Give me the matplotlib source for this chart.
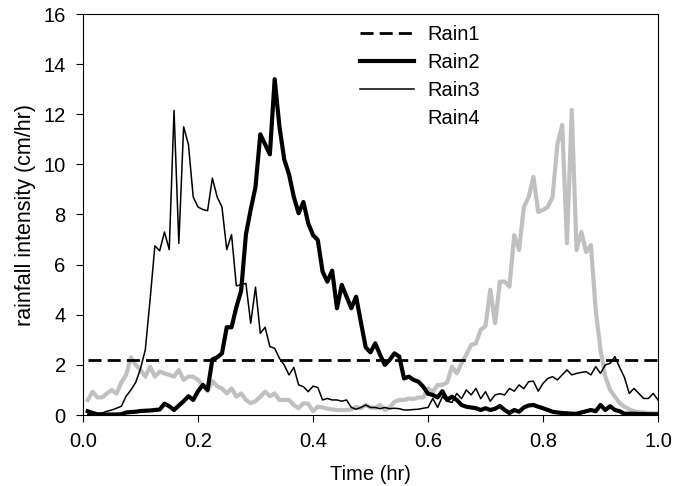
import matplotlib
matplotlib.use("Agg")
import matplotlib.pyplot as plt
import numpy as np
from matplotlib.lines import Line2D

plt.rcParams["font.family"] = ["Liberation Sans", "DejaVu Sans"]

# time axis: 30 s steps over one hour
time_hr = np.arange(1, 121) / 120.0

rain1_t = [time_hr[0], 1.0]
rain1 = [2.2, 2.2]

rain2 = [
    0.15, 0.08, 0.03, 0.02, 0.02, 0.02, 0.02, 0.03, 0.10, 0.12,
    0.13, 0.16, 0.17, 0.18, 0.20, 0.22, 0.45, 0.35, 0.20, 0.38,
    0.55, 0.75, 0.60, 0.95, 1.20, 1.00, 2.22, 2.30, 2.46, 3.50,
    3.50, 4.30, 4.95, 7.20, 8.20, 9.10, 11.20, 10.80, 10.40, 13.40,
    11.50, 10.20, 9.60, 8.70, 8.05, 8.50, 7.65, 7.18, 6.98, 5.72,
    5.32, 5.76, 4.26, 5.19, 4.72, 4.26, 4.72, 3.70, 2.70, 2.50,
    2.86, 2.40, 2.00, 2.20, 2.46, 2.33, 1.46, 1.53, 1.40, 1.33,
    1.13, 0.85, 0.80, 0.70, 0.95, 0.60, 0.73, 0.60, 0.40, 0.33,
    0.30, 0.27, 0.20, 0.27, 0.20, 0.25, 0.36, 0.20, 0.08, 0.20,
    0.13, 0.30, 0.38, 0.40, 0.33, 0.27, 0.20, 0.13, 0.10, 0.08,
    0.07, 0.05, 0.05, 0.10, 0.15, 0.20, 0.15, 0.40, 0.20, 0.35,
    0.20, 0.15, 0.05, 0.05, 0.05, 0.04, 0.04, 0.03, 0.03, 0.03,
]

rain3 = [
    0.03, 0.03, 0.05, 0.08, 0.15, 0.20, 0.27, 0.35, 0.75, 1.00,
    1.30, 1.85, 2.60, 4.60, 6.75, 6.55, 7.30, 6.60, 12.15, 6.85,
    11.50, 10.80, 8.70, 8.30, 8.20, 8.15, 9.45, 8.70, 8.30, 6.60,
    7.20, 5.15, 5.20, 5.25, 3.66, 5.10, 3.26, 3.50, 2.73, 2.66,
    2.26, 1.99, 1.60, 1.90, 1.20, 1.13, 0.93, 1.15, 1.10, 0.60,
    0.66, 0.60, 0.60, 0.55, 0.60, 0.30, 0.23, 0.30, 0.40, 0.30,
    0.30, 0.25, 0.30, 0.25, 0.27, 0.25, 0.20, 0.20, 0.22, 0.23,
    0.27, 0.30, 0.66, 0.30, 0.73, 0.55, 0.50, 0.86, 0.65, 1.00,
    0.80, 1.06, 0.65, 0.93, 0.55, 0.80, 0.85, 0.80, 1.06, 0.95,
    1.20, 1.05, 1.33, 1.35, 0.95, 1.26, 1.46, 1.53, 1.40, 1.60,
    1.80, 1.60, 1.66, 1.70, 1.73, 1.60, 1.93, 1.66, 2.00, 2.06,
    2.33, 1.90, 1.50, 0.86, 1.06, 0.86, 0.66, 0.66, 0.86, 0.60,
]

rain4 = [
    0.60, 0.93, 0.70, 0.70, 0.86, 1.00, 0.85, 1.30, 1.60, 2.30,
    2.00, 1.80, 1.53, 1.93, 1.53, 1.73, 1.66, 1.60, 1.53, 1.80,
    1.40, 1.53, 1.53, 1.40, 1.20, 0.95, 1.35, 1.15, 1.06, 0.86,
    1.06, 0.73, 0.86, 0.60, 0.47, 0.55, 0.73, 0.93, 0.75, 0.86,
    0.60, 0.60, 0.60, 0.40, 0.27, 0.47, 0.45, 0.15, 0.33, 0.30,
    0.25, 0.22, 0.20, 0.20, 0.20, 0.22, 0.33, 0.27, 0.40, 0.30,
    0.28, 0.40, 0.20, 0.30, 0.53, 0.60, 0.60, 0.66, 0.64, 0.70,
    0.70, 1.06, 0.93, 1.20, 1.20, 1.30, 1.93, 1.66, 2.06, 2.40,
    2.80, 2.85, 3.40, 3.55, 5.00, 3.66, 5.32, 5.32, 5.12, 7.18,
    6.58, 8.30, 8.70, 9.50, 8.10, 8.18, 8.30, 8.70, 10.80, 11.57,
    6.85, 12.17, 6.58, 7.31, 6.50, 6.78, 4.19, 2.60, 1.53, 1.00,
    0.73, 0.47, 0.33, 0.23, 0.15, 0.12, 0.10, 0.08, 0.07, 0.07,
]

labels = ["Rain1", "Rain2", "Rain3", "Rain4"]

fig = plt.figure(figsize=(6.73, 4.86), dpi=100)
ax = fig.add_axes([83 / 673, 71 / 486, 575 / 673, 401 / 486])

ax.plot(time_hr, rain4, color="#c0c0c0", lw=3.0, zorder=2)
ax.plot(time_hr, rain3, color="black", lw=1.1, zorder=3)
ax.plot(time_hr, rain2, color="black", lw=3.0, zorder=4)
ax.plot(rain1_t, rain1, color="black", lw=2.0, dashes=(4.7, 2.2), zorder=5)

ax.set_xlim(0, 1.0)
ax.set_ylim(0, 16)
ax.set_xticks(np.arange(0, 1.01, 0.2))
ax.set_yticks(np.arange(0, 17, 2))
ax.xaxis.set_major_formatter(matplotlib.ticker.FormatStrFormatter("%.1f"))
ax.tick_params(axis="both", direction="out", length=5, width=0.8,
               labelsize=14.5, top=False, right=False)
ax.tick_params(axis="x", pad=7)
ax.tick_params(axis="y", pad=7.5)
for s in ax.spines.values():
    s.set_linewidth(0.8)

ax.set_xlabel("Time (hr)", fontsize=14.5, labelpad=10)
ax.set_ylabel("rainfall intensity (cm/hr)", fontsize=15.5, labelpad=5)

handles = [
    Line2D([], [], color="black", lw=2.0, dashes=(4.7, 2.2)),
    Line2D([], [], color="black", lw=3.0),
    Line2D([], [], color="black", lw=1.1),
    Line2D([], [], color="none", lw=3.0),
]
ax.legend(handles, labels, loc="upper left", bbox_to_anchor=(0.462, 1.0),
          frameon=False, fontsize=14.5, handlelength=2.7, handletextpad=0.65,
          labelspacing=0.45, borderaxespad=0.15)

fig.savefig("out.png", dpi=100)
